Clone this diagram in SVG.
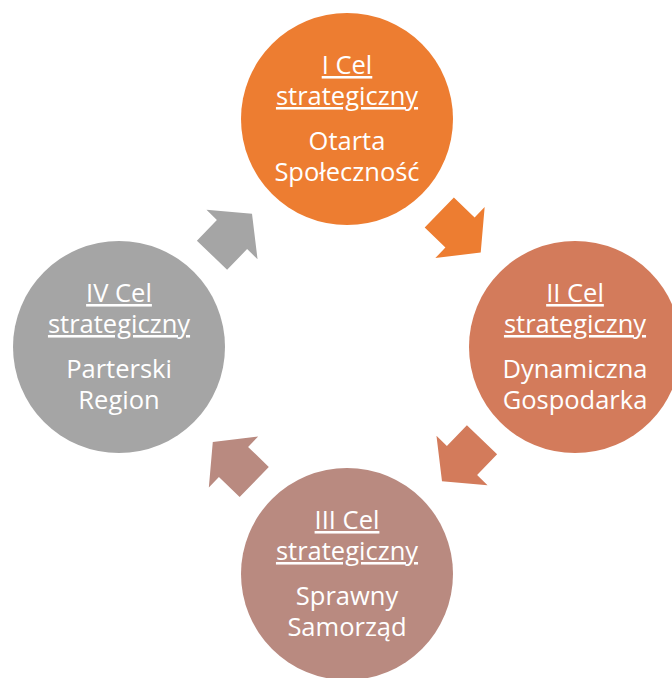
<svg xmlns="http://www.w3.org/2000/svg" width="672" height="678" viewBox="0 0 672 678">
<defs>
<style>
.t{font-family:"Open Sans","Liberation Sans",sans-serif;font-size:25.5px;fill:#ffffff;text-anchor:middle}
.u{text-decoration:underline}
</style>
<path id="arr" d="M-28.8,-21 L0,-21 L0,-35.5 L28.8,0 L0,35.5 L0,21 L-28.8,21 Z"/>
</defs>
<rect width="672" height="678" fill="#ffffff"/>
<g id="connectors">
<use href="#arr" fill="#ED7D31" transform="translate(460,232.5) rotate(44)"/>
<use href="#arr" fill="#D37B5B" transform="translate(462,460.5) rotate(134)"/>
<use href="#arr" fill="#B98A80" transform="translate(233.5,462) rotate(224)"/>
<use href="#arr" fill="#A5A5A5" transform="translate(232,234.5) rotate(314)"/>
</g>
<g id="node1">
<circle cx="347" cy="119" r="106" fill="#ED7D31"/>
<text class="t u" x="347" y="74">I Cel</text>
<text class="t u" x="347" y="105">strategiczny</text>
<text class="t" x="347" y="150">Otarta</text>
<text class="t" x="347" y="181">Społeczność</text>
</g>
<g id="node2">
<circle cx="575" cy="347" r="106" fill="#D37B5B"/>
<text class="t u" x="575" y="302">II Cel</text>
<text class="t u" x="575" y="333">strategiczny</text>
<text class="t" x="575" y="378">Dynamiczna</text>
<text class="t" x="575" y="409">Gospodarka</text>
</g>
<g id="node3">
<circle cx="347" cy="574" r="106" fill="#B98A80"/>
<text class="t u" x="347" y="529">III Cel</text>
<text class="t u" x="347" y="560">strategiczny</text>
<text class="t" x="347" y="605">Sprawny</text>
<text class="t" x="347" y="636">Samorząd</text>
</g>
<g id="node4">
<circle cx="119" cy="347" r="106" fill="#A5A5A5"/>
<text class="t u" x="119" y="302">IV Cel</text>
<text class="t u" x="119" y="333">strategiczny</text>
<text class="t" x="119" y="378">Parterski</text>
<text class="t" x="119" y="409">Region</text>
</g>
</svg>
